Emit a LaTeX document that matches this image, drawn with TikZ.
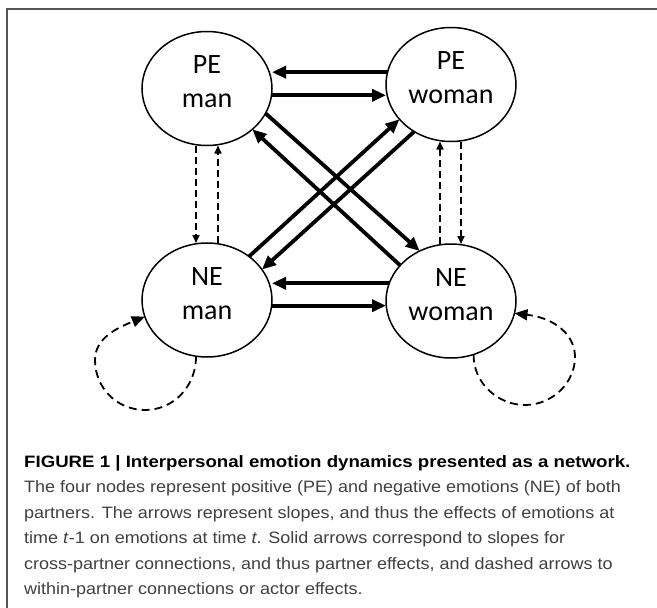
\documentclass[tikz,border=0pt]{standalone}
\usepackage{fontspec}
\setmainfont{Liberation Sans}
\newfontfamily\nodefont{Carlito}
\usetikzlibrary{arrows.meta,shapes.geometric}
\definecolor{captiongray}{HTML}{404040}
\definecolor{framegray}{HTML}{555555}
\newcommand{\capreg}[1]{\scalebox{1.09}[1]{#1}}
\newcommand{\capbld}[1]{\scalebox{1.13}[1]{#1}}
\begin{document}
\begin{tikzpicture}[x=1pt,y=-1pt,
  emo/.style={draw, ellipse, line width=1.5pt, minimum width=130pt, minimum height=114pt,
    inner sep=0pt, outer sep=0pt, align=center,
    font=\nodefont\fontsize{28}{34}\selectfont, text depth=13pt},
  cross/.style={line width=3.8pt, -{Triangle[length=14pt,width=12pt]}},
  within/.style={line width=1.6pt, dash pattern=on 7pt off 4pt, -{Triangle[length=8pt,width=7pt]}},
  selfloop/.style={line width=1.8pt, dash pattern=on 8pt off 5pt, -{Triangle[length=13pt,width=11pt]}},
  captext/.style={anchor=base west, inner sep=0pt, text=captiongray, font=\fontsize{16.5}{20}\selectfont},
  captitle/.style={anchor=base west, inner sep=0pt, text=black, font=\bfseries\fontsize{16.5}{20}\selectfont}
]
\useasboundingbox (0,0) rectangle (657,608);
\fill[white] (0,0) rectangle (657,608);
\draw[line width=1.5pt, framegray] (7,608) -- (7,9) -- (657,9);

\node[emo] (PEm) at (207,88.5) {PE\\man};
\node[emo] (PEw) at (451,84.5) {PE\\woman};
\node[emo] (NEm) at (207,300) {NE\\man};
\node[emo] (NEw) at (451,301) {NE\\woman};

% horizontal cross-partner arrows
\draw[cross] (PEw.169) -- (PEw.169 -| PEm.east);
\draw[cross] (PEm.-6.5) -- (PEm.-6.5 -| PEw.west);
\draw[cross] (NEw.164) -- (NEw.164 -| NEm.east);
\draw[cross] (NEm.-5.3) -- (NEm.-5.3 -| NEw.west);

% diagonal cross-partner arrows
\draw[cross] (PEm.-23.3) -- (NEw.122.2);
\draw[cross] (NEw.145.1) -- (PEm.-42.7);
\draw[cross] (NEm.46.8) -- (PEw.-146.5);
\draw[cross] (PEw.-128.5) -- (NEm.29.4);

% within-partner dashed arrows
\draw[within] ([xshift=-11pt]PEm.south) -- ([xshift=-11pt]NEm.north);
\draw[within] ([xshift=11pt]NEm.north) -- ([xshift=11pt]PEm.south);
\draw[within] ([xshift=-11pt]NEw.north) -- ([xshift=-11pt]PEw.south);
\draw[within] ([xshift=10pt]PEw.south) -- ([xshift=10pt]NEw.north);

% self loops
\draw[selfloop] (NEm.-101) .. controls (196,387) and (173,410) .. (145,410)
  .. controls (117,410) and (95,388) .. (95,360)
  .. controls (95,338) and (117,328) .. (NEm.-165);
\draw[selfloop] (NEw.-67) .. controls (473,383) and (498,405) .. (525,405)
  .. controls (552,405) and (575,383) .. (575,357)
  .. controls (575,335) and (555,318) .. (NEw.-11);

% caption
\node[captitle] (cap1) at (24,467.5) {\capbld{FIGURE 1 | Interpersonal emotion dynamics presented as a network.}};
\node[captext] (cap2) at (24,492.9) {\capreg{The four nodes represent positive (PE) and negative emotions (NE) of both}};
\node[captext] (cap3) at (24,518.3) {\capreg{partners. The arrows represent slopes, and thus the effects of emotions at}};
\node[captext] (cap4) at (24,543.7) {\capreg{time \textit{t}-1 on emotions at time \textit{t}. Solid arrows correspond to slopes for}};
\node[captext] (cap5) at (24,569.1) {\capreg{cross-partner connections, and thus partner effects, and dashed arrows to}};
\node[captext] (cap6) at (24,594.5) {\capreg{within-partner connections or actor effects.}};
\end{tikzpicture}
\end{document}
